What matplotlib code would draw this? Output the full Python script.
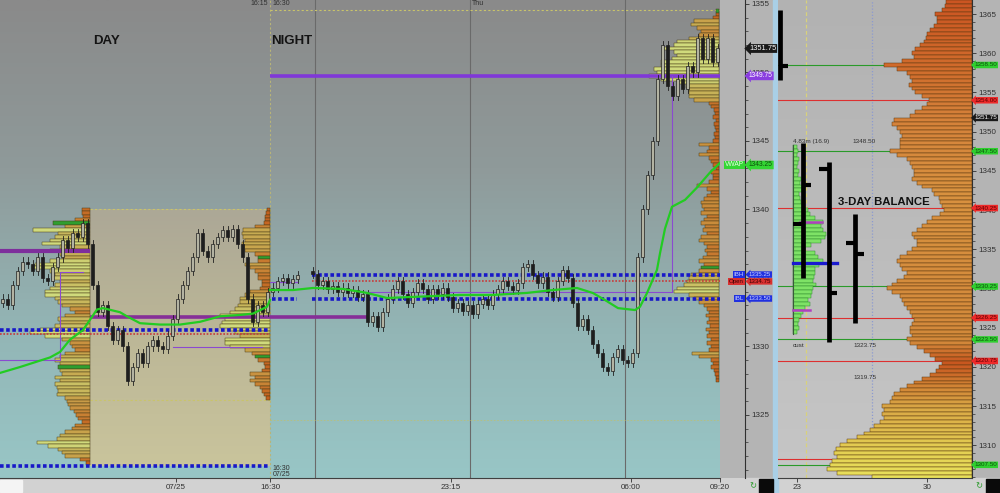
import numpy as np
import matplotlib
matplotlib.use('Agg')
import matplotlib.pyplot as plt
import matplotlib.transforms as mtrans
from matplotlib.colors import LinearSegmentedColormap
from matplotlib.patches import Rectangle
from matplotlib.ticker import MultipleLocator, FormatStrFormatter

plt.rcParams['font.family'] = ['Liberation Sans', 'DejaVu Sans']

# ---------------- data ----------------
# candle closes (one candle per 5 px slot)
day_close = [1333.5, 1333, 1334.5, 1335.5, 1336.2, 1336, 1335.5, 1336.5, 1335, 1334.8,
             1335.8, 1336.5, 1337.8, 1337.2, 1338.3, 1338, 1339, 1337.5, 1334.5, 1332.5,
             1333, 1331.5, 1330.5, 1331.2, 1330, 1327.5, 1328.5, 1329.5, 1328.8, 1330,
             1330.5, 1330, 1329.8, 1330.8, 1332, 1333.5, 1334.5, 1335.5, 1336.5, 1338.3,
             1337, 1336.5, 1337.5, 1338, 1338.5, 1338, 1338.6, 1337.5, 1336.5, 1333.5,
             1331.8, 1333, 1332.5, 1334]
night_a_close = [1334.3, 1334.8, 1335.0, 1334.6, 1334.9, 1335.2]
night_b_close = [1335.3, 1334.5, 1334.8, 1334.2, 1334.4, 1334.0, 1334.3, 1333.9, 1334.1, 1333.6,
                 1333.8, 1331.8, 1332.2, 1331.4, 1332.5, 1333.5, 1334.2, 1334.8, 1333.8, 1333.2,
                 1334.0, 1334.6, 1334.2, 1333.5, 1334.2, 1333.8, 1334.3, 1333.6, 1332.8, 1333.2,
                 1332.6, 1333.0, 1332.4, 1333.1, 1333.5, 1333.0, 1333.8, 1334.2, 1334.8, 1334.4,
                 1334.1, 1334.6, 1335.8, 1336.0, 1335.2, 1334.6, 1335.1, 1334.0, 1333.6, 1334.8,
                 1335.6, 1335.0, 1333.2, 1331.5, 1332.0, 1331.2, 1330.2, 1329.5, 1328.5, 1328.2,
                 1329.2, 1329.8, 1329.0, 1328.8, 1329.5, 1336.5, 1340.0, 1342.5, 1345.0, 1349.5,
                 1352.0, 1349.0, 1348.3, 1349.5, 1348.8, 1350.5, 1350.0, 1352.5, 1351.0, 1352.5,
                 1350.8, 1351.75]

vwap_day_t = [0, 4, 10, 12, 14, 16.6, 19.4, 20.6, 24, 25.4, 28, 32, 36, 40, 44, 48, 50.6, 53.4, 54]
vwap_day = [1328.07, 1328.5, 1329.2, 1329.6, 1330.5, 1331.2, 1332.7, 1332.8, 1332.5, 1332.2,
            1331.7, 1331.6, 1331.6, 1331.8, 1332.2, 1332.3, 1332.4, 1332.9, 1333.4]
vwap_night_t = [54, 58.6, 62.6, 68.6, 73.4, 77.4, 82, 92, 98.6, 105.4, 110.6, 115.4, 118.6,
                121.4, 123.6, 127, 128, 129.4, 131.4, 132, 133, 134.4, 137, 139.4, 142, 144]
vwap_night = [1334.12, 1334.12, 1334.27, 1334.2, 1333.91, 1333.54, 1333.61, 1333.76, 1333.76,
              1333.91, 1334.12, 1334.27, 1333.9, 1333.3, 1332.8, 1332.66, 1332.9, 1333.9,
              1335.6, 1336.8, 1338.6, 1340.2, 1340.7, 1341.6, 1342.7, 1343.4]

# volume profiles (0.25 pt rows, from top price downward)
day_prof_top = 1340.0
day_prof = [8, 8, 7, 15, 37, 25, 57, 32, 35, 40, 48, 30, 40, 30, 28, 40, 55, 58, 40, 35,
            38, 30, 35, 40, 45, 45, 35, 32, 28, 20, 15, 25, 32, 30, 35, 50, 60, 45, 28, 20,
            18, 15, 25, 30, 35, 30, 32, 30, 28, 35, 30, 35, 33, 32, 33, 25, 23, 22, 20, 16,
            14, 12, 8, 15, 18, 25, 30, 33, 53, 42, 32, 28, 25, 10, 4]
day_prof_green = [4, 46]
day2_prof_top = 1340.0
day2_prof = [3, 4, 5, 5, 6, 15, 27, 28, 27, 25, 28, 26, 25, 15, 12, 12, 25, 20, 15, 12,
             12, 8, 8, 10, 20, 25, 30, 30, 32, 35, 40, 50, 45, 48, 50, 40, 35, 30, 45, 45,
             40, 25, 18, 15, 12, 6, 5, 8, 20, 15, 20, 15, 10, 8, 6, 4]
day2_prof_green = [14, 43]
night_prof_top = 1354.5
night_prof = [3, 3, 6, 25, 28, 22, 18, 20, 30, 42, 45, 55, 45, 42, 47, 58, 58, 65, 62, 70,
              58, 40, 33, 30, 30, 30, 25, 10, 8, 5, 4, 6, 3, 5, 4, 3, 5, 4, 6, 20,
              10, 12, 20, 10, 8, 6, 3, 8, 6, 6, 10, 22, 12, 8, 12, 15, 18, 17, 15, 18,
              12, 15, 18, 14, 16, 12, 18, 20, 15, 12, 14, 12, 16, 20, 15, 18, 20, 28, 30, 32,
              35, 42, 45, 30, 25, 20, 15, 12, 10, 13, 10, 12, 9, 13, 10, 12, 8, 12, 8, 10,
              27, 20, 8, 6, 8, 5, 4, 3, 3]
night_prof_green = [0, 75]

# composite profile (0.5 pt rows) in the right panel
comp_top = 1366.5
comp_prof = [26, 27, 30, 37, 35, 35, 38, 42, 45, 46, 48, 52, 57, 60, 58, 70, 88, 75, 65, 62,
             60, 63, 60, 57, 50, 43, 45, 50, 57, 62, 78, 80, 75, 72, 70, 72, 72, 72, 82, 75,
             65, 62, 60, 58, 58, 60, 55, 50, 40, 38, 33, 32, 30, 28, 32, 40, 45, 50, 55, 60,
             58, 55, 55, 60, 65, 72, 75, 72, 70, 65, 68, 75, 80, 85, 80, 72, 70, 68, 65, 62,
             60, 58, 60, 62, 62, 60, 65, 62, 55, 48, 42, 37, 30, 33, 36, 42, 50, 58, 65, 72,
             78, 80, 82, 90, 88, 90, 88, 92, 98, 102, 108, 115, 125, 132, 136, 138, 135, 140, 142, 145,
             135, 100]
split_top = 1348.0
split_prof = [4, 5, 4, 6, 5, 4, 6, 5, 8, 7, 12, 10, 6, 7, 8, 10, 15, 17, 22, 30,
              28, 30, 33, 32, 28, 18, 12, 22, 25, 30, 26, 22, 22, 21, 20, 23, 20, 19, 18, 15,
              17, 12, 10, 8, 6, 5, 6, 4]

# key levels
green_levels = [1358.5, 1347.5, 1330.25, 1323.5, 1307.5]
red_levels = [1354.0, 1340.25, 1326.25, 1320.75, 1308.25]
# balance bars: (x, top, bottom, left tick, right tick)
tpo_x = [1.5, 24.5, 50.5, 77]
tpo_top = [1365.5, 1348.55, 1346.1, 1339.5]
tpo_bot = [1356.6, 1331.3, 1323.2, 1325.6]
tpo_ltick = [None, 1338.2, 1345.2, 1335.8]
tpo_rtick = [1358.4, 1343.2, 1329.4, 1334.4]

main_ticks = [35.2, 54, 90.2, 126.2, 144]
main_ticklabels = ['07/25', '16:30', '23:15', '06:00', '09:20']

MAIN_YLIM = (1320.40, 1355.29)
RIGHT_YLIM = (1305.82, 1366.79)

# ---------------- figure ----------------
fig = plt.figure(figsize=(10, 4.93), dpi=100)
fig.patch.set_facecolor('#b4b4b4')
H = 493.0
fig.add_artist(Rectangle((0, 0), 1, 15 / H, transform=fig.transFigure, color='#d2d2d2', zorder=-1))
fig.add_artist(Rectangle((0, 1 / H), 0.022, 12 / H, transform=fig.transFigure, color='#f4f4f4', zorder=-1))
fig.add_artist(Rectangle((0.773, 0), 0.005, 1, transform=fig.transFigure, color='#a9cfe6', zorder=-1))
for x0 in (0.759, 0.986):
    fig.add_artist(Rectangle((x0, 0), 0.014, 14 / H, transform=fig.transFigure, color='#0a0a0a', zorder=-1))
for x0 in (0.748, 0.974):
    fig.text(x0 + 0.005, 7 / H, '\u21bb', color='#2a9a2a', fontsize=6, ha='center', va='center',
             family='DejaVu Sans')

ax = fig.add_axes([0, 15 / H, 0.72, 478 / H])
axp = fig.add_axes([0.72, 15 / H, 0.025, 478 / H])
axr = fig.add_axes([0.778, 15 / H, 0.194, 478 / H])

# ---------------- main chart ----------------
bg_cmap = LinearSegmentedColormap.from_list(
    'bg', [(0, '#8a8a8a'), (0.35, '#8f9a9a'), (0.7, '#93b6b6'), (1, '#98c6c6')])
ax.imshow(np.linspace(0, 1, 256).reshape(-1, 1), cmap=bg_cmap, aspect='auto',
          extent=[0, 144, MAIN_YLIM[0], MAIN_YLIM[1]], origin='upper', zorder=0)
beige = LinearSegmentedColormap.from_list('beige', ['#aca896', '#bcb797', '#c9c49c'])
ax.imshow(np.linspace(0, 1, 64).reshape(-1, 1), cmap=beige, aspect='auto',
          extent=[18, 54, 1321.3, 1340.0], origin='upper', zorder=0.5)

# session separators
ax.axvline(54, color='#b8b478', ls=(0, (2, 2)), lw=0.8, zorder=1)
for xv in (63, 94, 125):
    ax.axvline(xv, color='#6a6a6a', lw=0.8, zorder=1)

dot_yel = dict(color='#c9c46a', ls=(0, (2, 2)), lw=0.8, zorder=1)
ax.plot([54, 144], [1354.55, 1354.55], **dot_yel)
ax.plot([18, 54], [1340.0, 1340.0], **dot_yel)
ax.plot([18, 54], [1326.1, 1326.1], **dot_yel)
ax.plot([54, 144], [1324.6, 1324.6], color='#b9c07a', ls=(0, (2, 2)), lw=0.6, zorder=1)

prof_cmap = LinearSegmentedColormap.from_list(
    'prof', ['#c4601e', '#c98a3a', '#c7b358', '#d0da7c'])


def draw_profile(top, vols, right_edge, green_rows):
    vols = np.array(vols, dtype=float)
    prices = top - 0.25 * np.arange(len(vols))
    w = vols * 0.2
    cols = [prof_cmap(np.clip((v - 4) / 40.0, 0, 1)) for v in vols]
    for r in green_rows:
        cols[r] = '#2f9e2f'
    ax.barh(prices, w, left=right_edge - w, height=0.25, color=cols,
            edgecolor='#4a3c18', linewidth=0.35, zorder=2)


draw_profile(day_prof_top, day_prof, 18, day_prof_green)
draw_profile(day2_prof_top, day2_prof, 54, day2_prof_green)
draw_profile(night_prof_top, night_prof, 143.8, night_prof_green)

# purple reference lines
ax.plot([54, 144], [1349.75, 1349.75], color='#8038d8', lw=2.6, zorder=3, solid_capstyle='butt')
ax.plot([0, 18], [1337.0, 1337.0], color='#7e2e9c', lw=3, zorder=3, solid_capstyle='butt')
ax.plot([18, 73.4], [1332.15, 1332.15], color='#862f98', lw=2.6, zorder=3, solid_capstyle='butt')
thin_p = dict(color='#8a4ad0', lw=0.8, zorder=3)
ax.plot([72.6, 134.4, 134.4], [1333.98, 1333.98, 1349.75], **thin_p)
ax.plot([54, 59.4], [1334.7, 1334.7], **thin_p)
ax.plot([0, 12, 12, 16.6], [1329.0, 1329.0, 1335.44, 1335.44], **thin_p)
ax.plot([34.6, 52.4], [1329.96, 1329.96], **thin_p)

# initial balance lines
blue_d = dict(color='#1818c8', ls=(0, (1, 0.7)), lw=2.6, zorder=4)
red_d = dict(color='#c83a3a', ls=(0, (1, 1)), lw=1.2, zorder=4)
ax.plot([0, 54], [1331.2, 1331.2], **blue_d)
ax.plot([0, 54], [1330.9, 1330.9], **red_d)
ax.plot([0, 54], [1321.28, 1321.28], **blue_d)
ax.plot([62.4, 144], [1335.25, 1335.25], **blue_d)
ax.plot([62.4, 144], [1333.5, 1333.5], **blue_d)
ax.plot([62.4, 144], [1334.75, 1334.75], **red_d)
ax.plot([54.4, 59.4], [1333.5, 1333.5], **blue_d)


def draw_candles(x0, closes, first_open):
    opens = [first_open] + list(closes[:-1])
    for i, (o, c) in enumerate(zip(opens, closes)):
        x = x0 + i + 0.5
        lo, hi = min(o, c), max(o, c)
        ax.plot([x, x], [lo - 0.3, hi + 0.3], color='#1e1e1e', lw=0.6, zorder=6)
        ax.add_patch(Rectangle((x - 0.3, lo), 0.6, max(hi - lo, 0.08),
                               facecolor='#b3b3a2' if c >= o else '#1e1e1e',
                               edgecolor='#1e1e1e', lw=0.5, zorder=7))


draw_candles(0, day_close, 1333.2)
draw_candles(54, night_a_close, 1334.0)
draw_candles(62, night_b_close, 1335.5)

ax.plot(vwap_day_t, vwap_day, color='#22cc22', lw=1.6, zorder=8)
ax.plot(vwap_night_t, vwap_night, color='#22cc22', lw=1.6, zorder=8)

ax.text(18.6, 1352.3, 'DAY', fontsize=9.5, fontweight='bold', color='#141414', va='center', zorder=9)
ax.text(54.2, 1352.3, 'NIGHT', fontsize=9.5, fontweight='bold', color='#141414', va='center', zorder=9)
ax.text(53.6, 1355.0, '16:15', fontsize=5, color='#303030', ha='right', va='center', zorder=9)
ax.text(54.5, 1355.0, '16:30', fontsize=5, color='#303030', ha='left', va='center', zorder=9)
ax.text(94.3, 1355.0, 'Thu', fontsize=5, color='#303030', ha='left', va='center', zorder=9)
ax.text(54.5, 1321.1, '16:30', fontsize=5, color='#303030', ha='left', va='center', zorder=9)
ax.text(54.5, 1320.65, '07/25', fontsize=5, color='#303030', ha='left', va='center', zorder=9)

ax.set_xlim(0, 144)
ax.set_ylim(*MAIN_YLIM)
ax.set_yticks([])
ax.set_xticks(main_ticks)
ax.set_xticklabels(main_ticklabels)
ax.tick_params(axis='x', labelsize=5.8, colors='#303030', length=3, pad=1.5, width=0.6)
for s in ('top', 'left', 'right'):
    ax.spines[s].set_visible(False)
ax.spines['bottom'].set_color('#404040')
ax.spines['bottom'].set_linewidth(0.8)

# ---------------- main price scale ----------------
axp.set_facecolor('#b4b4b4')
axp.set_ylim(*MAIN_YLIM)
axp.set_xlim(0, 25)
axp.set_xticks([])
for s in ('top', 'left', 'bottom'):
    axp.spines[s].set_visible(False)
axp.spines['right'].set_color('#303030')
axp.spines['right'].set_linewidth(0.8)
axp.yaxis.tick_right()
axp.yaxis.set_major_locator(MultipleLocator(5))
axp.yaxis.set_minor_locator(MultipleLocator(1))
axp.yaxis.set_major_formatter(FormatStrFormatter('%d'))
axp.tick_params(axis='y', which='major', labelsize=5.8, colors='#303030', length=3, width=0.6, pad=1.5)
axp.tick_params(axis='y', which='minor', length=2, width=0.5, colors='#303030')


def tag(a, xf, price, text, fc, tc, ha='left', arrow=True, size=4.8):
    tr = mtrans.blended_transform_factory(a.transAxes, a.transData)
    style = 'larrow,pad=0.12' if arrow else 'square,pad=0.12'
    a.text(xf, price, text, transform=tr, fontsize=size, color=tc, ha=ha, va='center',
           bbox=dict(boxstyle=style, fc=fc, ec='none'), clip_on=False, zorder=20)


tag(axp, 1.16, 1351.75, '1351.75', '#1a1a1a', 'white', size=5.4)
tag(axp, 1.16, 1349.75, '1349.75', '#8a3ee0', 'white')
tag(axp, 1.16, 1343.25, '1343.25', '#33d633', '#0d4d0d')
tag(axp, 1.16, 1335.25, '1335.25', '#2030e0', '#c8d0ff', size=4.4)
tag(axp, 1.16, 1334.75, '1334.75', '#d83030', '#3a0000', size=4.4)
tag(axp, 1.16, 1333.5, '1333.50', '#2030e0', '#c8d0ff', size=4.4)
tag(axp, 0.96, 1343.25, 'VWAP', '#33d633', '#e8ffe8', ha='right', arrow=False)
tag(axp, 0.96, 1335.25, 'IBH', '#2030e0', '#c8d0ff', ha='right', arrow=False, size=4.4)
tag(axp, 0.96, 1334.75, 'Open', '#d83030', '#3a0000', ha='right', arrow=False, size=4.4)
tag(axp, 0.96, 1333.5, 'IBL', '#2030e0', '#c8d0ff', ha='right', arrow=False, size=4.4)

# ---------------- right panel ----------------
rbg = LinearSegmentedColormap.from_list('rbg', ['#b2b2b2', '#c6c6c6'])
axr.imshow(np.linspace(0, 1, 128).reshape(-1, 1), cmap=rbg, aspect='auto',
           extent=[0, 194, RIGHT_YLIM[0], RIGHT_YLIM[1]], origin='upper', zorder=0)
axr.axvline(28, color='#d9d27a', ls=(0, (3, 2)), lw=0.9, zorder=1)
axr.axvline(93.5, color='#8c9ad0', ls=(0, (1, 1.5)), lw=0.9, zorder=1)
for p in green_levels:
    axr.plot([0, 194], [p, p], color='#2a9a2a', lw=0.8, zorder=1)
for p in red_levels:
    axr.plot([0, 194], [p, p], color='#dd3030', lw=0.8, zorder=1)

comp_cmap = LinearSegmentedColormap.from_list(
    'comp', [(0, '#e8e05a'), (0.07, '#e2c850'), (0.15, '#d8a444'), (0.24, '#c8561f'),
             (0.28, '#d2883a'), (0.6, '#d8913f'), (0.75, '#d5823a'), (0.86, '#d06c2c'),
             (1, '#cb5522')])
comp_prices = comp_top - 0.5 * np.arange(len(comp_prof))
comp_w = np.array(comp_prof, dtype=float)
comp_cols = [comp_cmap((p - 1306.0) / 60.5) for p in comp_prices]
axr.barh(comp_prices, comp_w, left=194 - comp_w, height=0.5, color=comp_cols,
         edgecolor='#5a3810', linewidth=0.35, zorder=2)

split_prices = split_top - 0.5 * np.arange(len(split_prof))
axr.barh(split_prices, split_prof, left=15, height=0.5, color='#7ee266',
         edgecolor='#2e8a2e', linewidth=0.35, zorder=3)
axr.plot([15, 15], [split_prices[-1] - 0.25, split_prices[0] + 0.25], color='#3a5a3a', lw=0.8, zorder=3)
axr.plot([15, 59], [1333.24, 1333.24], color='#1a1ad0', lw=2.4, zorder=4)
axr.plot([22, 44], [1338.47, 1338.47], color='#b040c0', lw=1.8, zorder=4)
axr.plot([15, 32], [1327.24, 1327.24], color='#b040c0', lw=1.8, zorder=4)

for x, t, b, lt, rt in zip(tpo_x, tpo_top, tpo_bot, tpo_ltick, tpo_rtick):
    axr.plot([x, x], [b, t], color='black', lw=3.4, solid_capstyle='butt', zorder=5)
    if lt is not None:
        axr.plot([x - 9.5, x], [lt, lt], color='black', lw=3, solid_capstyle='butt', zorder=5)
    if rt is not None:
        axr.plot([x, x + 8.5], [rt, rt], color='black', lw=3, solid_capstyle='butt', zorder=5)

axr.text(60, 1341.0, '3-DAY BALANCE', fontsize=8.2, fontweight='bold', color='#111111',
         va='center', zorder=6)
axr.text(15, 1348.8, '4.83m (16.9)', fontsize=4.6, color='#303030', va='center', zorder=6)
axr.text(74, 1348.8, '1348.50', fontsize=4.6, color='#303030', va='center', zorder=6)
axr.text(15, 1322.7, 'cust', fontsize=4.6, color='#303030', va='center', zorder=6)
axr.text(75, 1322.7, '1323.75', fontsize=4.6, color='#303030', va='center', zorder=6)
axr.text(75, 1318.7, '1319.75', fontsize=4.6, color='#303030', va='center', zorder=6)

axr.set_xlim(0, 194)
axr.set_ylim(*RIGHT_YLIM)
axr.set_xticks([19, 149])
axr.set_xticklabels(['23', '30'])
axr.tick_params(axis='x', labelsize=5.8, colors='#303030', length=3, pad=1.5, width=0.6)
for s in ('top', 'left'):
    axr.spines[s].set_visible(False)
axr.spines['right'].set_color('#303030')
axr.spines['bottom'].set_color('#404040')
axr.yaxis.tick_right()
axr.yaxis.set_major_locator(MultipleLocator(5))
axr.yaxis.set_minor_locator(MultipleLocator(1))
axr.yaxis.set_major_formatter(FormatStrFormatter('%d'))
axr.tick_params(axis='y', which='major', labelsize=5.8, colors='#303030', length=3, width=0.6, pad=1.5)
axr.tick_params(axis='y', which='minor', length=2, width=0.5, colors='#303030')

xr = 1 + 2.5 / 194.0
for p in green_levels:
    tag(axr, xr, p, '%.2f' % p, '#2fcf2f', '#0d4d0d', size=4.5)
for p in red_levels[:-1]:
    tag(axr, xr, p, '%.2f' % p, '#ee2a2a', '#5a0000', size=4.5)
tag(axr, xr, 1351.75, '1351.75', '#1a1a1a', 'white', size=4.5)

plt.savefig('out.png', dpi=100, facecolor=fig.get_facecolor())
plt.close()
